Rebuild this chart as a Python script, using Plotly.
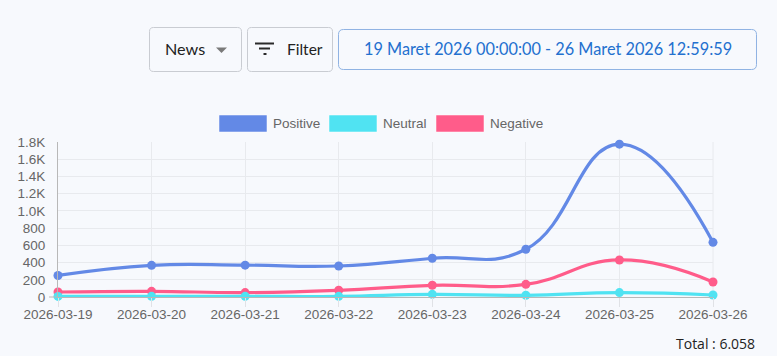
import plotly.graph_objects as go

# ---------------- data ----------------
dates = ["2026-03-19", "2026-03-20", "2026-03-21", "2026-03-22",
         "2026-03-23", "2026-03-24", "2026-03-25", "2026-03-26"]
positive = [250, 368, 370, 360, 450, 554, 1775, 635]
neutral = [7, 8, 8, 8, 31, 20, 51, 23]
negative = [58, 66, 51, 78, 136, 147, 430, 174]
series_names = ["Positive", "Neutral", "Negative"]
series_colors = ["#6389e6", "#50e3f2", "#ff5c8a"]
y_tickvals = [0, 200, 400, 600, 800, 1000, 1200, 1400, 1600, 1800]
y_ticktext = ["0", "200", "400", "600", "800", "1.0K", "1.2K", "1.4K", "1.6K", "1.8K"]
total_label = "Total : 6.058"
date_range_label = "19 Maret 2026 00:00:00 - 26 Maret 2026 12:59:59"

# ---------------- geometry ----------------
W, H = 777, 356
L, R, T, B = 58, 64, 142, 59
PW = W - L - R
PH = H - T - B
BG = "#f7f9fd"


def px(x):
    return (x - L) / PW


def py(y):
    return (H - B - y) / PH


def rounded_rect(x0, y0, x1, y1, r):
    p = lambda x, y: f"{px(x):.5f},{py(y):.5f}"
    return (f"M {p(x0 + r, y0)} L {p(x1 - r, y0)} Q {p(x1, y0)} {p(x1, y0 + r)} "
            f"L {p(x1, y1 - r)} Q {p(x1, y1)} {p(x1 - r, y1)} "
            f"L {p(x0 + r, y1)} Q {p(x0, y1)} {p(x0, y1 - r)} "
            f"L {p(x0, y0 + r)} Q {p(x0, y0)} {p(x0 + r, y0)} Z")


fig = go.Figure()
data_map = {"Positive": positive, "Neutral": neutral, "Negative": negative}
# draw order: Negative, Neutral, Positive (Positive on top)
for name in ["Negative", "Neutral", "Positive"]:
    c = series_colors[series_names.index(name)]
    fig.add_trace(go.Scatter(
        x=dates, y=data_map[name], name=name, mode="lines+markers",
        line=dict(color=c, width=3.2, shape="spline", smoothing=1.3),
        marker=dict(color=c, size=9),
        cliponaxis=False, showlegend=False, hoverinfo="x+y+name"))

shapes = []
annotations = []

# legend (Chart.js style boxes)
legend_items = [(219, 271), (329, 381), (436, 488)]
for (bx, tx), name, c in zip(legend_items, series_names, series_colors):
    shapes.append(dict(type="rect", xref="paper", yref="paper",
                       x0=px(bx), x1=px(bx + 48), y0=py(115), y1=py(132),
                       fillcolor=c, line=dict(color="rgba(255,255,255,0.5)", width=1)))
    annotations.append(dict(text=name, xref="paper", yref="paper",
                            x=px(tx), y=py(123.5), xanchor="left", yanchor="middle",
                            showarrow=False,
                            font=dict(family="Liberation Sans, Arial", size=13.5, color="#666666")))

# zero tick extension
shapes.append(dict(type="line", xref="paper", yref="paper",
                   x0=px(49), x1=px(58), y0=0, y1=0,
                   line=dict(color="#b8b8b8", width=1)))

# top controls: buttons
btn_line = dict(color="#c9ccd2", width=1)
shapes.append(dict(type="path", xref="paper", yref="paper",
                   path=rounded_rect(149.5, 27.5, 241.5, 71.5, 4), line=btn_line,
                   fillcolor="rgba(0,0,0,0)"))
shapes.append(dict(type="path", xref="paper", yref="paper",
                   path=rounded_rect(247.5, 27.5, 332.5, 71.5, 4), line=btn_line,
                   fillcolor="rgba(0,0,0,0)"))
shapes.append(dict(type="path", xref="paper", yref="paper",
                   path=rounded_rect(338.5, 29.5, 756.5, 69.5, 5),
                   line=dict(color="#8fb3e3", width=1), fillcolor="rgba(0,0,0,0)"))
# caret
shapes.append(dict(type="path", xref="paper", yref="paper",
                   path=f"M {px(216)},{py(47.5)} L {px(227)},{py(47.5)} L {px(221.5)},{py(53)} Z",
                   fillcolor="#7a7a7a", line=dict(width=0)))
# filter icon
for x0, x1, yy in [(255, 274, 43.5), (259, 270, 48.5), (263.5, 266.5, 54)]:
    shapes.append(dict(type="line", xref="paper", yref="paper",
                       x0=px(x0), x1=px(x1), y0=py(yy), y1=py(yy),
                       line=dict(color="#2a2a2a", width=2)))

btn_font = "Lato, Open Sans, sans-serif"
annotations.append(dict(text="News", xref="paper", yref="paper",
                        x=px(163), y=py(49), xanchor="left", yanchor="middle",
                        showarrow=False, font=dict(family=btn_font, size=16.2, color="#222222")))
annotations.append(dict(text="Filter", xref="paper", yref="paper",
                        x=px(284.5), y=py(49), xanchor="left", yanchor="middle",
                        showarrow=False, font=dict(family=btn_font, size=15.5, color="#222222")))
annotations.append(dict(text=date_range_label, xref="paper", yref="paper",
                        x=px(547.5), y=py(49), xanchor="center", yanchor="middle",
                        showarrow=False, font=dict(family=btn_font, size=16.3, color="#2370cf")))
annotations.append(dict(text=total_label, xref="paper", yref="paper",
                        x=px(757), y=py(343), xanchor="right", yanchor="middle",
                        showarrow=False, font=dict(family="Open Sans, sans-serif", size=14, color="#222222")))

axis_font = dict(family="Liberation Sans, Arial", size=13.5, color="#666666")
fig.update_layout(
    width=W, height=H,
    margin=dict(l=L, r=R, t=T, b=B, autoexpand=False),
    paper_bgcolor=BG, plot_bgcolor=BG,
    showlegend=False,
    shapes=shapes, annotations=annotations,
    xaxis=dict(type="category", range=[0, 7], showgrid=True, gridcolor="#e8eaee",
               gridwidth=1, showline=True, linecolor="#b8b8b8", linewidth=1,
               ticks="outside", ticklen=9, tickcolor="#e0e2e6", tickfont=axis_font,
               ticklabelstandoff=-4, zeroline=False, mirror=False),
    yaxis=dict(range=[0, 1800], tickvals=y_tickvals, ticktext=y_ticktext,
               showgrid=True, gridcolor="#e8eaee", gridwidth=1,
               showline=True, linecolor="#b8b8b8", linewidth=1,
               ticks="outside", ticklen=9, tickcolor="rgba(0,0,0,0)", tickfont=axis_font,
               zeroline=False),
)
# right border gridline (top is the 1.8K gridline)
fig.add_shape(type="line", xref="paper", yref="paper", x0=1, x1=1, y0=0, y1=1,
              line=dict(color="#e8eaee", width=1), layer="below")

fig.write_html("out.html", config={"displayModeBar": False},
               post_script="document.body.style.margin='0';document.body.style.background='%s';" % BG)
